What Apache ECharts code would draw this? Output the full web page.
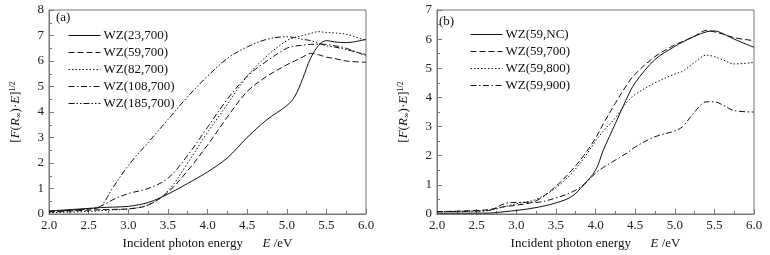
<!DOCTYPE html>
<html>
<head>
<meta charset="utf-8">
<script src="https://cdn.jsdelivr.net/npm/echarts@6/dist/echarts.min.js"></script>
<style>
  html, body { margin: 0; padding: 0; background: #fff; }
  #chart { width: 770px; height: 255px; }
</style>
</head>
<body>
<div id="chart"></div>
<script>
// photon energy samples (eV)
const energyA = [2.0, 2.5, 2.65, 2.8, 3.0, 3.25, 3.5, 3.75, 4.0, 4.25, 4.5, 4.75, 5.0, 5.1, 5.2, 5.3, 5.4, 5.5, 5.6, 5.75, 6.0];
const energyB = [2.0, 2.5, 2.65, 2.85, 3.0, 3.25, 3.5, 3.7, 3.85, 4.0, 4.1, 4.25, 4.4, 4.5, 4.75, 5.0, 5.1, 5.25, 5.4, 5.5, 5.6, 5.75, 6.0];

// panel (a)
const namesA = ['WZ(23,700)', 'WZ(59,700)', 'WZ(82,700)', 'WZ(108,700)', 'WZ(185,700)'];
const wz23_700  = [0.12, 0.22, 0.25, 0.27, 0.30, 0.45, 0.78, 1.20, 1.65, 2.20, 3.00, 3.70, 4.25, 4.60, 5.30, 6.10, 6.60, 6.80, 6.75, 6.72, 6.85];
const wz59_700  = [0.08, 0.15, 0.17, 0.18, 0.20, 0.35, 0.85, 1.70, 2.70, 3.80, 4.80, 5.40, 5.85, 6.00, 6.15, 6.30, 6.25, 6.15, 6.10, 6.00, 5.95];
const wz82_700  = [0.05, 0.10, 0.13, 0.16, 0.20, 0.35, 0.90, 2.00, 3.20, 4.30, 5.40, 6.20, 6.80, 6.92, 7.00, 7.08, 7.15, 7.12, 7.10, 7.05, 6.80];
const wz108_700 = [0.10, 0.20, 0.30, 0.55, 0.80, 1.00, 1.40, 2.30, 3.40, 4.50, 5.40, 6.00, 6.50, 6.58, 6.62, 6.65, 6.66, 6.65, 6.60, 6.50, 6.20];
const wz185_700 = [0.10, 0.20, 0.30, 1.00, 1.90, 2.80, 3.70, 4.60, 5.40, 6.10, 6.55, 6.85, 6.95, 6.92, 6.85, 6.80, 6.70, 6.60, 6.55, 6.45, 6.25];

// panel (b)
const namesB = ['WZ(59,NC)', 'WZ(59,700)', 'WZ(59,800)', 'WZ(59,900)'];
const wz59_nc  = [0.03, 0.03, 0.03, 0.08, 0.12, 0.22, 0.38, 0.60, 1.00, 1.50, 2.20, 3.10, 4.00, 4.50, 5.30, 5.75, 5.90, 6.10, 6.25, 6.28, 6.20, 6.00, 5.72];
const wz59_700b = [0.08, 0.12, 0.15, 0.25, 0.30, 0.45, 0.95, 1.50, 2.00, 2.60, 3.10, 3.80, 4.45, 4.80, 5.40, 5.80, 5.92, 6.10, 6.30, 6.25, 6.18, 6.05, 5.95];
const wz59_800 = [0.08, 0.10, 0.12, 0.25, 0.35, 0.50, 0.90, 1.40, 1.90, 2.50, 2.85, 3.30, 3.85, 4.10, 4.50, 4.80, 4.90, 5.20, 5.45, 5.40, 5.30, 5.15, 5.20];
const wz59_900 = [0.08, 0.10, 0.12, 0.35, 0.40, 0.40, 0.55, 0.75, 1.00, 1.40, 1.60, 1.85, 2.10, 2.30, 2.65, 2.85, 3.00, 3.50, 3.85, 3.85, 3.75, 3.55, 3.50];

const xTicks = { min: 2, max: 6, interval: 0.5 };

const dashes = {
  solid: 'solid',
  dashed: [6, 3],
  dotted: [1.5, 2],
  dashDot: [6, 2.5, 1.5, 2.5],
  dashDotDot: [6, 2, 1.5, 2, 1.5, 2]
};

const FONT = '"Liberation Serif", "DejaVu Serif", serif';
const AXIS_COLOR = '#777';

function pairs(xs, ys) {
  return xs.map((x, i) => [x, ys[i]]);
}

function mkSeries(name, xs, ys, type, idx) {
  return {
    name,
    type: 'line',
    xAxisIndex: idx,
    yAxisIndex: idx,
    data: pairs(xs, ys),
    smooth: 0.35,
    symbol: 'none',
    itemStyle: { color: '#111' },
    lineStyle: { color: '#111', width: 1, type }
  };
}

const yName = '{b|[}{i|F}{b|(}{i|R}{s|\u221e}{b|)\u00b7}{i|E}{b|]}{sup|1/2}';
const yNameRich = {
  b: { fontFamily: FONT, fontSize: 13, color: '#111' },
  i: { fontFamily: FONT, fontSize: 13, fontStyle: 'italic', color: '#111' },
  s: { fontFamily: FONT, fontSize: 8, color: '#111', verticalAlign: 'bottom', padding: [6, 0, 0, 0] },
  sup: { fontFamily: FONT, fontSize: 8, color: '#111', verticalAlign: 'top', padding: [0, 0, 6, 0] }
};

function xAxis(idx) {
  return {
    type: 'value',
    gridIndex: idx,
    min: xTicks.min,
    max: xTicks.max,
    interval: xTicks.interval,
    name: '{b|Incident photon energy      }{i|E}{b| /eV}',
    nameLocation: 'middle',
    nameGap: 23,
    nameTextStyle: { rich: yNameRich },
    axisLine: { lineStyle: { color: AXIS_COLOR, width: 1 } },
    axisTick: { inside: true, length: 5, lineStyle: { color: AXIS_COLOR } },
    minorTick: { show: true, splitNumber: 2, length: 3, lineStyle: { color: AXIS_COLOR } },
    splitLine: { show: false },
    axisLabel: {
      fontFamily: FONT, fontSize: 13, color: '#222', margin: 5,
      formatter: v => v.toFixed(1)
    }
  };
}

function yAxis(idx, max) {
  return {
    type: 'value',
    gridIndex: idx,
    min: 0,
    max,
    interval: 1,
    name: yName,
    nameLocation: 'middle',
    nameRotate: 90,
    nameGap: 26,
    nameTextStyle: { rich: yNameRich },
    axisLine: { lineStyle: { color: AXIS_COLOR, width: 1 } },
    axisTick: { inside: true, length: 5, lineStyle: { color: AXIS_COLOR } },
    minorTick: { show: true, splitNumber: 2, length: 3, lineStyle: { color: AXIS_COLOR } },
    splitLine: { show: false },
    axisLabel: { fontFamily: FONT, fontSize: 13, color: '#222', margin: 5 }
  };
}

function legend(names, left, top) {
  return {
    data: names,
    orient: 'vertical',
    left, top,
    itemWidth: 32,
    itemHeight: 10,
    itemGap: 4,
    itemStyle: { opacity: 0 },
    lineStyle: { width: 1 },
    textStyle: { fontFamily: FONT, fontSize: 13, color: '#111', padding: [0, 0, 0, -2] },
    selectedMode: false
  };
}

const chart = echarts.init(document.getElementById('chart'));
chart.setOption({
  animation: false,
  backgroundColor: '#fff',
  grid: [
    { left: 49, top: 10, width: 317, height: 208, show: true, borderColor: AXIS_COLOR, borderWidth: 1 },
    { left: 437, top: 10, width: 317, height: 208, show: true, borderColor: AXIS_COLOR, borderWidth: 1 }
  ],
  xAxis: [xAxis(0), xAxis(1)],
  yAxis: [yAxis(0, 8), yAxis(1, 7)],
  legend: [legend(namesA, 63, 24), legend(namesB, 465, 23)],
  graphic: [
    { type: 'text', left: 56, top: 11, style: { text: '(a)', font: '13px ' + FONT, fill: '#111' } },
    { type: 'text', left: 439, top: 15, style: { text: '(b)', font: '13px ' + FONT, fill: '#111' } }
  ],
  series: [
    mkSeries(namesA[0], energyA, wz23_700, dashes.solid, 0),
    mkSeries(namesA[1], energyA, wz59_700, dashes.dashed, 0),
    mkSeries(namesA[2], energyA, wz82_700, dashes.dotted, 0),
    mkSeries(namesA[3], energyA, wz108_700, dashes.dashDot, 0),
    mkSeries(namesA[4], energyA, wz185_700, dashes.dashDotDot, 0),
    mkSeries(namesB[0], energyB, wz59_nc, dashes.solid, 1),
    mkSeries(namesB[1], energyB, wz59_700b, dashes.dashed, 1),
    mkSeries(namesB[2], energyB, wz59_800, dashes.dotted, 1),
    mkSeries(namesB[3], energyB, wz59_900, dashes.dashDot, 1)
  ]
});
</script>
</body>
</html>
